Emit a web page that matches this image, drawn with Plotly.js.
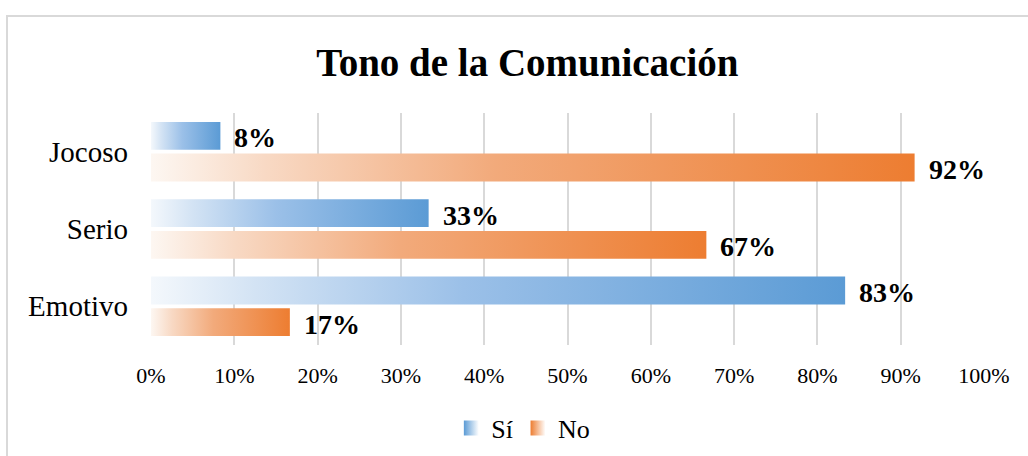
<!DOCTYPE html>
<html>
<head>
<meta charset="utf-8">
<script src="https://cdn.plot.ly/plotly-3.0.1.min.js"></script>
<style>
  html, body { margin: 0; padding: 0; background: #ffffff; }
  #wrap { position: relative; width: 1028px; height: 456px; overflow: hidden; }
  #chart { position: absolute; left: 0; top: 0; width: 1028px; height: 456px; }
  #frame { position: absolute; left: 6px; top: 15px; width: 1100px; height: 500px;
           border-left: 2px solid #d9d9d9; border-top: 2px solid #d9d9d9; pointer-events: none; }
</style>
</head>
<body>
<div id="wrap">
  <div id="chart"></div>
  <div id="frame"></div>
</div>
<script>
// ---- data ----
const categories = ['Emotivo', 'Serio', 'Jocoso'];
const siValues = [0.8333, 0.3333, 0.0833];
const noValues = [0.1667, 0.6667, 0.9167];
const seriesNames = ['Sí', 'No'];
const xTickVals = [0, 0.1, 0.2, 0.3, 0.4, 0.5, 0.6, 0.7, 0.8, 0.9, 1.0];
const chartTitle = 'Tono de la Comunicación';

// ---- style ----
const FONT = 'Liberation Serif, Times New Roman, serif';
const seriesColors = ['#5b9bd5', '#ed7d31'];
const blueScale = [[0, '#f4f8fc'], [0.15, '#d3e3f4'], [0.45, '#9bc0e8'], [1, '#5b9bd5']];
const orangeScale = [[0, '#fdf7f2'], [0.15, '#f8d9c4'], [0.45, '#f2aa7b'], [1, '#ed7d31']];
const barHalf = 0.36;   // bar thickness in category units
const gap = 0.025;       // half gap between bars of a group

const traces = [];
const annotations = [];

function addSeries(values, name, scale, sign) {
  values.forEach((v, i) => {
    const y0 = i + sign * gap;
    const y1 = i + sign * (gap + barHalf);
    traces.push({
      type: 'scatter',
      mode: 'none',
      x: [0, v, v, 0, 0],
      y: [y0, y0, y1, y1, y0],
      fill: 'toself',
      fillgradient: { type: 'horizontal', colorscale: scale },
      name: name,
      legendgroup: name,
      showlegend: false,
      hoverinfo: 'skip'
    });
    annotations.push({
      x: v, y: (y0 + y1) / 2, xref: 'x', yref: 'y',
      text: Math.round(v * 100) + '%',
      showarrow: false, xanchor: 'left', yanchor: 'middle', xshift: 12, yshift: -2,
      font: { family: FONT, size: 28, color: '#000000', weight: 'bold' }
    });
  });
}
addSeries(siValues, seriesNames[0], blueScale, 1);
addSeries(noValues, seriesNames[1], orangeScale, -1);

// legend entries (gradient squares like the original legend keys)
seriesNames.forEach((name, k) => {
  traces.push({
    type: 'scatter', mode: 'markers', x: [null], y: [null],
    name: name, legendgroup: name, showlegend: true, hoverinfo: 'skip',
    marker: { symbol: 'square', size: 15, color: seriesColors[k],
              gradient: { type: 'horizontal', color: '#ffffff' } }
  });
});

const layout = {
  width: 1028, height: 456,
  margin: { l: 151, r: 44, t: 113, b: 111, autoexpand: false },
  paper_bgcolor: 'rgba(0,0,0,0)',
  plot_bgcolor: 'rgba(0,0,0,0)',
  font: { family: FONT, color: '#000000' },
  title: {
    text: '<b>' + chartTitle + '</b>',
    font: { family: FONT, size: 39, color: '#000000' },
    x: 0.513, xref: 'container', xanchor: 'center',
    y: 1 - 62 / 456, yref: 'container', yanchor: 'middle'
  },
  xaxis: {
    range: [0, 1],
    tickvals: xTickVals,
    tickformat: '.0%',
    showgrid: true, gridcolor: '#d9d9d9', gridwidth: 2,
    zeroline: false,
    showline: false,
    ticks: '',
    ticklabelstandoff: 15,
    tickfont: { family: FONT, size: 22, color: '#000000' },
    fixedrange: true
  },
  yaxis: {
    range: [-0.5, 2.5],
    tickvals: [0, 1, 2],
    ticktext: categories,
    showgrid: false, zeroline: false, showline: false,
    ticks: '',
    ticklabelstandoff: 22,
    tickfont: { family: FONT, size: 29, color: '#000000' },
    fixedrange: true
  },
  showlegend: true,
  legend: {
    orientation: 'h',
    x: 0.447, xanchor: 'center', xref: 'paper',
    y: -0.358, yanchor: 'middle',
    font: { family: FONT, size: 26, color: '#000000' },
    traceorder: 'normal',
    itemwidth: 30
  },
  annotations: annotations
};

Plotly.newPlot('chart', traces, layout, { staticPlot: true, displayModeBar: false });
</script>
</body>
</html>
